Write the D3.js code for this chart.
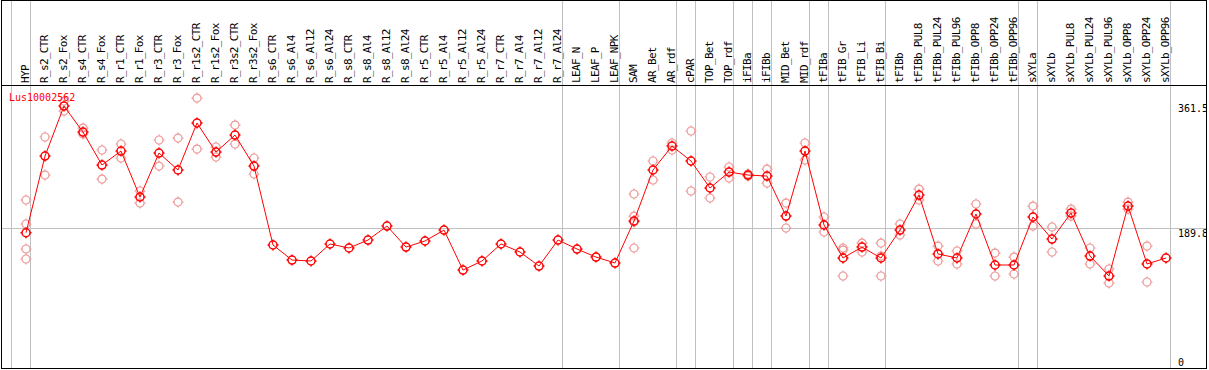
<!DOCTYPE html>
<html>
<head>
<meta charset="utf-8">
<script src="https://cdn.jsdelivr.net/npm/d3@7"></script>
<style>
  body { margin: 0; background: #fff; }
  svg text { font-family: "DejaVu Sans Mono", monospace; font-size: 10px; }
  svg text.cat { font-size: 11px; letter-spacing: -0.65px; }
</style>
</head>
<body>
<div id="canvas"></div>
<script>
// Expression profile for one gene across samples.
var geneName = "Lus10002562";

var categories = [
    "HYP", "R_s2_CTR", "R_s2_Fox", "R_s4_CTR", "R_s4_Fox", "R_r1_CTR", "R_r1_Fox",
    "R_r3_CTR", "R_r3_Fox", "R_r1s2_CTR", "R_r1s2_Fox", "R_r3s2_CTR", "R_r3s2_Fox",
    "R_s6_CTR", "R_s6_Al4", "R_s6_Al12", "R_s6_Al24", "R_s8_CTR", "R_s8_Al4",
    "R_s8_Al12", "R_s8_Al24", "R_r5_CTR", "R_r5_Al4", "R_r5_Al12", "R_r5_Al24",
    "R_r7_CTR", "R_r7_Al4", "R_r7_Al12", "R_r7_Al24", "LEAF_N", "LEAF_P", "LEAF_NPK",
    "SAM", "AR_Bet", "AR_rdf", "cPAR", "TOP_Bet", "TOP_rdf", "iFIBa", "iFIBb",
    "MID_Bet", "MID_rdf", "tFIBa", "tFIB_Gr", "tFIB_Li", "tFIB_Bi", "tFIBb",
    "tFIBb_PUL8", "tFIBb_PUL24", "tFIBb_PUL96", "tFIBb_OPP8", "tFIBb_OPP24", "tFIBb_OPP96",
    "sXYLa", "sXYLb", "sXYLb_PUL8", "sXYLb_PUL24", "sXYLb_PUL96", "sXYLb_OPP8",
    "sXYLb_OPP24", "sXYLb_OPP96"
];

// mean value per sample
var means = [
    183.7, 288.8, 357.3, 321.7, 276.5, 295.7, 232.7, 292.9, 269.7, 334.1, 294.3, 317.6, 275.1,
    166.9, 146.3, 145.0, 168.3, 162.8, 173.7, 192.9, 164.1, 172.4, 187.4, 132.6, 145.0,
    168.3, 157.3, 138.1, 173.7, 161.4, 150.4, 142.2,
    199.8, 269.7, 302.5, 282.0, 245.0, 266.9, 262.8, 261.4, 206.6, 295.7, 194.3,
    149.1, 164.1, 149.1, 187.4, 235.4, 154.6, 149.1, 209.4, 139.5, 139.5,
    205.3, 175.1, 210.7, 151.8, 124.4, 220.3, 140.9, 149.1
];

// individual replicates per sample
var replicates = [
    [228.6, 195.7, 161.4, 147.7], [314.9, 262.8], [364.2, 350.5], [327.2, 319.0],
    [297.1, 257.3], [305.3, 286.1], [240.9, 224.4], [310.8, 275.1], [313.5, 225.8],
    [368.3, 298.4], [301.2, 287.5], [331.3, 305.3], [286.1, 264.2],
    [], [], [], [], [], [], [], [], [], [], [], [], [], [], [], [], [], [], [],
    [236.8, 206.6, 198.4, 162.8], [282.0, 256.0], [306.7, 297.1], [323.1, 240.9],
    [260.1, 231.3], [273.8, 258.7], [264.2, 261.4], [271.0, 251.8], [224.4, 190.2],
    [306.7, 283.4], [205.3, 184.7], [162.8, 160.0, 124.4], [169.6, 157.3],
    [169.6, 151.8, 124.4], [195.7, 180.6], [243.6, 228.6], [165.5, 145.0],
    [158.7, 140.9], [223.1, 195.7], [155.9, 124.4], [150.4, 127.2],
    [220.3, 192.9], [191.6, 157.3], [216.2, 206.6], [162.8, 140.9], [134.0, 114.8],
    [225.8, 216.2], [165.5, 116.2], []
];

// how many samples sit in each group between the grey separators
var groupSizes = [1, 28, 3, 3, 1, 2, 1, 1, 2, 1, 3, 7, 1, 7];

var tickValues = [361.5, 189.8, 0];
var medianValue = 189.8;

var W = 1209, H = 370;

var svg = d3.select('#canvas').append('svg')
    .attr('width', W)
    .attr('height', H);

var x = d3.scalePoint()
    .domain(categories)
    .range([26, 1166]);

var y = d3.scaleLinear()
    .domain([0, 361.5])
    .range([366.8, 103]);

var step = x.step();

// grey separators between sample groups (first one sits before the first sample)
var sepIdx = [-1];
groupSizes.reduce(function(acc, n) { sepIdx.push(acc + n - 1); return acc + n; }, 0);

svg.selectAll('line.sep').data(sepIdx)
    .enter().append('line')
    .attr('class', 'sep')
    .attr('x1', function(i) { return Math.round(26 + i * step + 4) + 0.5; })
    .attr('x2', function(i) { return Math.round(26 + i * step + 4) + 0.5; })
    .attr('y1', 0)
    .attr('y2', 368)
    .attr('stroke', '#c0c0c0')
    .attr('shape-rendering', 'crispEdges');

// median line
svg.append('line')
    .attr('x1', 1).attr('x2', 1207)
    .attr('y1', Math.round(y(medianValue)) + 0.5)
    .attr('y2', Math.round(y(medianValue)) + 0.5)
    .attr('stroke', '#c0c0c0')
    .attr('shape-rendering', 'crispEdges');

// sample labels, rotated
svg.selectAll('text.cat').data(categories)
    .enter().append('text')
    .attr('class', 'cat')
    .attr('transform', function(d) { return 'translate(' + (x(d) + 3) + ',83) rotate(-90)'; })
    .attr('fill', '#000')
    .text(function(d) { return d; });

// draws a small circle marker with four little ticks
var marker = function(g, color, sw) {
    g.append('circle')
        .attr('r', 4)
        .attr('fill', 'none')
        .attr('stroke', color)
        .attr('stroke-width', sw);
    [[0, -1], [0, 1], [-1, 0], [1, 0]].forEach(function(d) {
        g.append('line')
            .attr('x1', d[0] * 4).attr('y1', d[1] * 4)
            .attr('x2', d[0] * 5.5).attr('y2', d[1] * 5.5)
            .attr('stroke', color)
            .attr('stroke-width', sw);
    });
};

// replicates
var reps = [];
replicates.forEach(function(list, i) {
    list.forEach(function(v) { reps.push({ c: categories[i], v: v }); });
});
svg.selectAll('g.rep').data(reps)
    .enter().append('g')
    .attr('class', 'rep')
    .attr('transform', function(d) { return 'translate(' + x(d.c) + ',' + y(d.v) + ')'; })
    .each(function() { marker(d3.select(this), '#ee9a9a', 1.2); });

// mean line
var line = d3.line()
    .x(function(d, i) { return x(categories[i]); })
    .y(function(d) { return y(d); });

svg.append('path')
    .datum(means)
    .attr('d', line)
    .attr('fill', 'none')
    .attr('stroke', '#ff0000')
    .attr('stroke-width', 1);

svg.selectAll('g.mean').data(means)
    .enter().append('g')
    .attr('class', 'mean')
    .attr('transform', function(d, i) { return 'translate(' + x(categories[i]) + ',' + y(d) + ')'; })
    .each(function() { marker(d3.select(this), '#ff0000', 1.5); });

// gene name
svg.append('text')
    .attr('x', 9)
    .attr('y', 101)
    .attr('fill', '#ff0000')
    .text(geneName);

// value labels on the right, clipped by the frame
svg.append('clipPath').attr('id', 'clipR')
    .append('rect').attr('x', 0).attr('y', 0).attr('width', 1207).attr('height', H);

svg.selectAll('text.tick').data(tickValues)
    .enter().append('text')
    .attr('class', 'tick')
    .attr('clip-path', 'url(#clipR)')
    .attr('x', 1178)
    .attr('y', function(d) { return Math.min(y(d) + 9, 366); })
    .attr('fill', '#000')
    .text(function(d) { return d; });

// frame
svg.append('rect')
    .attr('x', 1.5).attr('y', 0.5)
    .attr('width', 1205).attr('height', 368)
    .attr('fill', 'none')
    .attr('stroke', '#000')
    .attr('shape-rendering', 'crispEdges');

svg.append('line')
    .attr('x1', 1).attr('x2', 1207)
    .attr('y1', 85.5).attr('y2', 85.5)
    .attr('stroke', '#000')
    .attr('shape-rendering', 'crispEdges');
</script>
</body>
</html>
